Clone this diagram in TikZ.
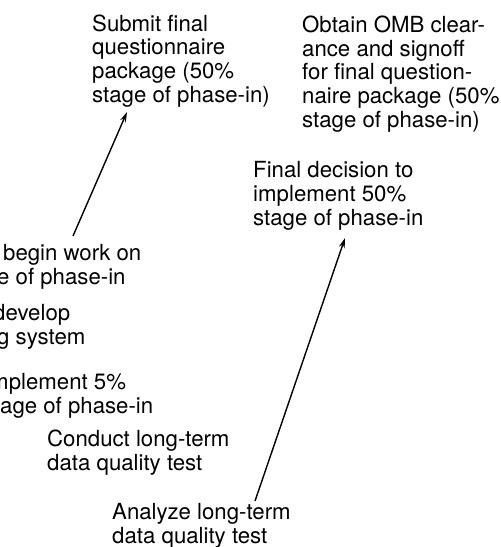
\documentclass[tikz,border=0pt]{standalone}
\usepackage{fontspec}
\setmainfont{TeX Gyre Heros}
\usetikzlibrary{arrows.meta}
\begin{document}
\begin{tikzpicture}[x=1pt,y=-1pt,
  lbl/.style={anchor=base west,inner sep=0pt,align=left,
    font=\fontsize{22.2}{23.6}\selectfont},
  arr/.style={line width=1.4pt,-{Stealth[length=10pt,width=6pt]}}]
\useasboundingbox[fill=white] (0,0) rectangle (501,547);
% base anchor = baseline of the last line
\node[lbl] (A) at (92,102) {Submit final\\questionnaire\\package (50\%\\stage of phase-in)};
\node[lbl] (B) at (302,127) {Obtain OMB clear-\\ance and signoff\\for final question-\\naire package (50\%\\stage of phase-in)};
\node[lbl] (C) at (253,225) {Final decision to\\implement 50\%\\stage of phase-in};
\node[lbl] (beg) at (-3,284) {\hspace*{6pt}begin work on\\e of phase-in};
\node[lbl] (dev) at (-7,344) {develop\\\hspace*{4pt}g system};
\node[lbl] (imp) at (-10,413) {mplement 5\%\\\hspace*{10pt}age of phase-in};
\node[lbl] (D) at (47,470) {Conduct long-term\\data quality test};
\node[lbl] (E) at (112,543) {Analyze long-term\\data quality test};
\draw[arr] ([xshift=76pt,yshift=8pt]beg.north west) -- ([xshift=35pt,yshift=-5pt]A.south west);
\draw[arr] ([xshift=143pt,yshift=2pt]E.north west) -- ([xshift=92pt,yshift=-8pt]C.south west);
\end{tikzpicture}
\end{document}
